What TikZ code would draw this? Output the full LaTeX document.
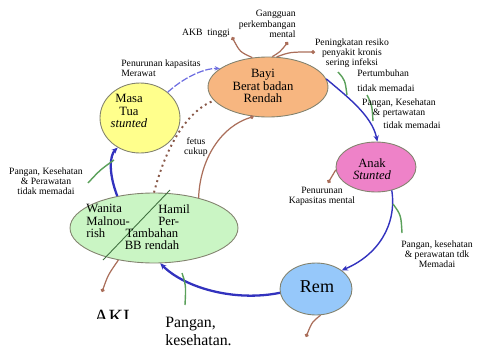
\documentclass[tikz,border=0pt]{standalone}
\usepackage{fontspec}
\setmainfont{Liberation Serif}
\usetikzlibrary{shapes.geometric,arrows.meta}

\definecolor{bayifill}{RGB}{247,182,128}
\definecolor{masafill}{RGB}{255,255,140}
\definecolor{wanitafill}{RGB}{202,245,196}
\definecolor{anakfill}{RGB}{238,130,200}
\definecolor{remajafill}{RGB}{150,200,250}
\definecolor{cellline}{RGB}{130,130,110}
\definecolor{cycleblue}{RGB}{50,50,190}
\definecolor{paleblue}{RGB}{110,110,225}
\definecolor{effectbrown}{RGB}{170,110,90}
\definecolor{causegreen}{RGB}{90,160,90}

\begin{document}
\begin{tikzpicture}[x=0.02cm,y=-0.02cm,
  cell/.style={ellipse,draw=cellline,line width=0.5pt,inner sep=0pt},
  celltext/.style={align=center,font=\fontsize{7.2}{7}\selectfont,inner sep=0pt},
  note/.style={align=center,font=\fontsize{5.5}{5.8}\selectfont,inner sep=0pt},
  cyclearrow/.style={draw=cycleblue,line width=0.8pt,-{Stealth[length=3.5pt,width=3pt]}},
  bigarrow/.style={cyclearrow,line width=1.3pt},
  effect/.style={draw=effectbrown,line width=0.7pt,-{Circle[length=2.2pt]}},
  cause/.style={draw=causegreen,line width=0.8pt}]
  \useasboundingbox (0,0) rectangle (485,349);

  % the five stages
  \node[cell,fill=bayifill,minimum width=2.4cm,minimum height=1.2cm] (bayi) at (268,87) {};
  \node[cell,fill=masafill,minimum width=1.6cm,minimum height=1.4cm] (masa) at (140,118) {};
  \node[cell,fill=wanitafill,minimum width=3.36cm,minimum height=1.4cm] (wanita) at (154,228) {};
  \node[cell,fill=anakfill,minimum width=1.6cm,minimum height=1.0cm] (anak) at (376,167) {};
  \node[cell,fill=remajafill,minimum width=1.44cm,minimum height=1.04cm] (remaja) at (316,289) {};

  \coordinate (split1) at (170,190);
  \coordinate (split2) at (103,260);
  \draw[causegreen!70!black,line width=0.5pt] (split1) -- (split2);

  \node[celltext] (bayitext) at (263,86) {Bayi\\Berat badan\\Rendah};
  \node[celltext] (masatext) at (129,111) {Masa\\Tua\\\textit{stunted}};
  \node[celltext,anchor=west,align=left] (wanitatext) at (86,221) {Wanita\\Malnou-\\rish};
  \node[celltext,anchor=west,align=left] (hamiltop) at (158,215.5) {Hamil\\Per-};
  \node[celltext] (hamilbot) at (152,239.5) {Tambahan\\BB rendah};
  \node[celltext] (anaktext) at (372,169) {Anak\\\textit{Stunted}};
  \node[celltext,font=\fontsize{10.3}{11}\selectfont] (remajatext) at (317,287) {Rem};

  % the cycle
  \draw[cyclearrow] (bayi.8) .. controls (345,95) and (372,115) .. (anak.87);
  \draw[cyclearrow] (anak.-56) .. controls (397,225) and (378,255) .. (remaja.36);
  \draw[bigarrow] (remaja.186) .. controls (235,302) and (185,288) .. (wanita.-80);
  \draw[bigarrow] (wanita.139) .. controls (108,172) and (110,155) .. (masa.-127);
  \draw[draw=paleblue,line width=0.7pt,dash pattern=on 4pt off 1pt,-{Stealth[length=3pt,width=2.5pt]}]
    (masa.43) .. controls (188,74) and (208,68) .. (bayi.159);
  \draw[effect] (wanita.34) .. controls (200,158) and (222,126) .. (bayi.-116);
  \draw[effectbrown!80!black,line width=1.1pt,dotted] (wanita.90) .. controls (165,150) and (185,112) .. (bayi.194);

  % outcomes
  \coordinate (akb) at (232,37);
  \coordinate (gangguan) at (288,42);
  \coordinate (kronis) at (315,52);
  \coordinate (mental) at (328,183);
  \coordinate (remajaout) at (306,337);
  \coordinate (aki) at (102,292);
  \draw[effect] (bayi.118) .. controls (240,52) .. (akb);
  \draw[effect] (bayi.82) .. controls (280,52) .. (gangguan);
  \draw[effect] (bayi.74) .. controls (290,52) .. (kronis);
  \draw[effect] (anak.184) -- (mental);
  \draw[effect] (remaja.-80) .. controls (312,322) .. (remajaout);
  \draw[effect] (wanita.-138) .. controls (108,275) .. (aki);

  % inputs
  \coordinate (in1a) at (88,183);  \coordinate (in1b) at (114,160);
  \coordinate (in2a) at (338,72);  \coordinate (in2b) at (347,95);
  \coordinate (in3a) at (367,95);  \coordinate (in3b) at (373,121);
  \coordinate (in4a) at (393,204); \coordinate (in4b) at (402,233);
  \coordinate (in5a) at (182,273); \coordinate (in5b) at (185,305);
  \draw[cause] (in1a) .. controls (100,170) .. (in1b);
  \draw[cause] (in2a) .. controls (345,80) .. (in2b);
  \draw[cause] (in3a) .. controls (372,105) .. (in3b);
  \draw[cause] (in4a) .. controls (401,215) .. (in4b);
  \draw[cause] (in5a) .. controls (186,285) .. (in5b);

  % labels
  \node[note,anchor=west,align=left] (merawat) at (121,68) {Penurunan kapasitas\\Merawat};
  \node[note] (akbtext) at (206,33) {AKB\ \ tinggi};
  \node[note,anchor=east,align=right] (gangguantext) at (296,24) {Gangguan\\perkembangan\\mental};
  \node[note] (kronistext) at (352,53) {Peningkatan resiko\\penyakit kronis\\sering infeksi};
  \node[note,anchor=west] (tumbuh) at (357,73) {Pertumbuhan};
  \node[note,anchor=west] (tumbuhkurang) at (357,88) {tidak memadai};
  \node[note] (pangan1) at (399,108) {Pangan, Kesehatan\\\& pertawatan};
  \node[note] (pangan1b) at (412,125) {tidak memadai};
  \node[note] (mentaltext) at (322,196) {Penurunan\\Kapasitas mental};
  \node[note] (pangan2) at (437,254) {Pangan, kesehatan\\\& perawatan tdk\\Memadai};
  \node[note] (fetus) at (196,147) {fetus\\cukup};
  \node[note] (pangan3) at (46,181) {Pangan, Kesehatan\\\& Perawatan\\tidak memadai};
  \begin{scope}
    \clip (80,300) rectangle (150,318);
    \node[font=\fontsize{11.5}{12}\selectfont,inner sep=0pt,anchor=north] (akitext) at (112,310) {AKI};
  \end{scope}
  \node[font=\fontsize{9}{10}\selectfont,inner sep=0pt,anchor=north west,align=left] (pangan4) at (165,317) {Pangan,\\kesehatan.};
\end{tikzpicture}
\end{document}
